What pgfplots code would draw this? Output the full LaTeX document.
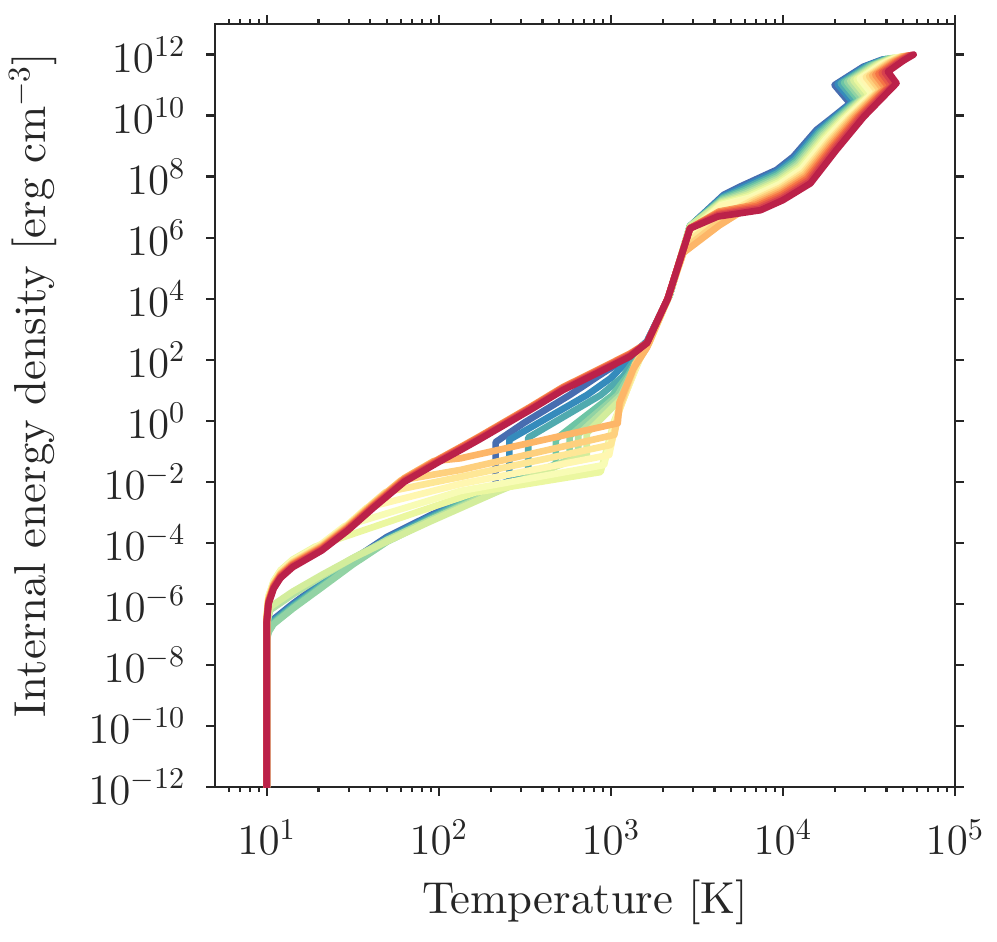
\RequirePackage{fix-cm}
\documentclass[border=0pt]{standalone}
\usepackage{fontspec}
\newfontfamily\labfont{lmroman10-regular.otf}
\usepackage{pgfplots}
\pgfplotsset{compat=1.18}
\definecolor{axgray}{gray}{0.15}
\definecolor{c0}{RGB}{71,109,176}
\definecolor{c1}{RGB}{53,139,188}
\definecolor{c2}{RGB}{80,170,175}
\definecolor{c3}{RGB}{109,197,165}
\definecolor{c4}{RGB}{146,211,164}
\definecolor{c5}{RGB}{180,225,162}
\definecolor{c6}{RGB}{211,237,156}
\definecolor{c7}{RGB}{235,247,160}
\definecolor{c8}{RGB}{248,252,181}
\definecolor{c9}{RGB}{255,247,177}
\definecolor{c10}{RGB}{254,231,150}
\definecolor{c11}{RGB}{254,208,126}
\definecolor{c12}{RGB}{253,182,104}
\definecolor{c13}{RGB}{250,150,86}
\definecolor{c14}{RGB}{245,116,70}
\definecolor{c15}{RGB}{231,89,72}
\definecolor{c16}{RGB}{215,64,78}
\definecolor{c17}{RGB}{187,33,73}
\begin{document}
\begin{tikzpicture}
\begin{axis}[
  scale only axis, width=266.4pt, height=274.68pt,
  xmode=log, ymode=log,
  xmin=5, xmax=1e5, ymin=1e-12, ymax=1e13,
  xtick={10,100,1000,10000,100000},
  minor xtick={6,7,8,9,20,30,40,50,60,70,80,90,200,300,400,500,600,700,800,900,2000,3000,4000,5000,6000,7000,8000,9000,20000,30000,40000,50000,60000,70000,80000,90000},
  ytick={1e-12,1e-10,1e-8,1e-6,1e-4,1e-2,1,1e2,1e4,1e6,1e8,1e10,1e12},
  yminorticks=false,
  tick align=outside, tick pos=both,
  xticklabel pos=lower, yticklabel pos=left,
  major tick length=3.2pt, minor tick length=1.8pt,
  axis line style={axgray, line width=0.8pt},
  every tick/.append style={axgray, line width=0.8pt},
  tick label style={font=\fontsize{15.5}{18}\selectfont, text=axgray, inner sep=0pt},
  xticklabel style={anchor=base, yshift=-21.2pt},
  yticklabel style={anchor=east, xshift=-7.2pt},
  xlabel={Temperature [K]},
  ylabel={Internal energy density [erg cm$^{-3}$]},
  every axis x label/.style={at={(axis description cs:0.5,0)}, anchor=base, yshift=-45.7pt, font=\labfont\fontsize{16.1}{19}\selectfont, text=axgray},
  every axis y label/.style={at={(axis description cs:0,0.5)}, xshift=-65.5pt, yshift=7.4pt, rotate=90, anchor=center, font=\labfont\fontsize{16.1}{19}\selectfont, text=axgray},
  every axis plot/.append style={line width=2.4pt, line cap=round, line join=round},
]
% ---- lower group (blue -> green): lower branch, jump, then upper fan
\addplot[c0] coordinates {(10,1e-12) (10,1e-7) (10.28,1.778e-7) (10.96,3.162e-7) (14.13,1e-6) (20.89,5.012e-6) (31.62,2.818e-5) (50.12,1.585e-4) (89.13,7.943e-4) (133.7,2.344e-3) (213.8,7.943e-3) (213.8,0.1995) (316.2,0.8913) (575.4,6.918) (891.3,35.48) (1288,131.8) (1622,398.1) (2188,1.259e4) (2884,2.399e6) (4519,2.512e7) (5623,4.677e7) (9183,1.660e8) (1.148e4,4.467e8) (1.567e4,3.388e9) (1.862e4,7.244e9) (2.455e4,2.512e10) (1.995e4,1.0e11) (2.931e4,3.981e11) (3.802e4,6.918e11)};
\addplot[c1] coordinates {(10,1e-12) (10,9.12e-8) (10.28,1.622e-7) (10.96,2.884e-7) (14.13,9.12e-7) (20.89,4.571e-6) (31.62,2.570e-5) (50.12,1.445e-4) (89.13,7.244e-4) (133.7,2.138e-3) (213.8,7.244e-3) (257.0,1.072e-2) (257.0,0.2399) (724.4,6.918) (1000,25.12) (1349,141.3) (1622,398.1) (2188,1.259e4) (2884,2.399e6) (4498,2.280e7) (5714,4.217e7) (9226,1.452e8) (1.164e4,3.972e8) (1.592e4,3.097e9) (1.914e4,7.345e9) (2.547e4,2.748e10) (2.080e4,1.062e11) (3.027e4,4.093e11) (3.899e4,7.063e11)};
\addplot[c2] coordinates {(10,1e-12) (10,8.318e-8) (10.28,1.479e-7) (10.96,2.630e-7) (14.13,8.318e-7) (20.89,4.169e-6) (31.62,2.344e-5) (50.12,1.318e-4) (89.13,6.607e-4) (133.7,1.950e-3) (213.8,6.607e-3) (331.1,1.660e-2) (331.1,0.2818) (871.0,6.918) (1175,28.18) (1413,125.9) (1660,416.9) (2188,1.259e4) (2884,2.399e6) (4477,2.070e7) (5807,3.793e7) (9268,1.271e8) (1.180e4,3.532e8) (1.618e4,2.831e9) (1.968e4,7.447e9) (2.642e4,3.006e10) (2.168e4,1.127e11) (3.119e4,4.207e11) (3.990e4,7.228e11)};
\addplot[c3] coordinates {(10,1e-12) (10,7.586e-8) (10.28,1.349e-7) (10.96,2.399e-7) (14.13,7.586e-7) (20.89,3.802e-6) (31.62,2.138e-5) (50.12,1.202e-4) (89.13,6.026e-4) (133.7,1.778e-3) (213.8,6.026e-3) (331.1,1.514e-2) (478.6,3.802e-2) (478.6,0.2512) (1023,6.918) (1259,31.62) (1445,125.9) (1660,436.5) (2188,1.259e4) (2884,2.399e6) (4457,1.884e7) (5902,3.420e7) (9333,1.109e8) (1.197e4,3.133e8) (1.641e4,2.594e9) (2.018e4,7.551e9) (2.742e4,3.281e10) (2.265e4,1.197e11) (3.221e4,4.315e11) (4.093e4,7.379e11)};
\addplot[c4] coordinates {(10,1e-12) (10,6.918e-8) (10.28,1.230e-7) (10.96,2.188e-7) (14.13,6.918e-7) (20.89,3.467e-6) (31.62,1.950e-5) (50.12,1.096e-4) (89.13,5.495e-4) (133.7,1.622e-3) (213.8,5.495e-3) (331.1,1.380e-2) (478.6,3.467e-2) (575.4,5.309e-2) (575.4,0.3162) (1096,6.918) (1318,39.81) (1479,141.3) (1660,446.7) (2188,1.259e4) (2884,2.399e6) (4436,1.710e7) (5998,3.083e7) (9376,9.705e7) (1.213e4,2.786e8) (1.667e4,2.371e9) (2.075e4,7.656e9) (2.844e4,3.589e10) (2.360e4,1.271e11) (3.327e4,4.436e11) (4.188e4,7.551e11)};
\addplot[c5] coordinates {(10,1e-12) (10,1.995e-7) (10.47,6.310e-7) (14.13,1.995e-6) (20.89,7.943e-6) (31.62,3.162e-5) (50.12,1.259e-4) (89.13,5.623e-4) (133.7,1.514e-3) (213.8,5.012e-3) (331.1,1.413e-2) (478.6,3.548e-2) (645.7,7.079e-2) (645.7,0.3548) (1148,6.918) (1349,44.67) (1514,158.5) (1698,478.6) (2188,1.259e4) (2884,2.399e6) (4416,1.552e7) (6095,2.780e7) (9419,8.492e7) (1.227e4,2.477e8) (1.694e4,2.168e9) (2.133e4,7.745e9) (2.944e4,3.926e10) (2.460e4,1.346e11) (3.436e4,4.560e11) (4.295e4,7.709e11)};
\addplot[c6] coordinates {(10,1e-12) (10,2.512e-7) (10.47,7.943e-7) (14.13,2.512e-6) (20.89,8.913e-6) (31.62,3.162e-5) (50.12,1.122e-4) (89.13,5.012e-4) (133.7,1.380e-3) (213.8,4.467e-3) (331.1,1.259e-2) (478.6,3.162e-2) (724.4,7.943e-2) (724.4,0.3981) (1202,6.918) (1380,50.12) (1514,158.5) (1698,501.2) (2163,1.122e4) (2884,2.399e6) (4395,1.409e7) (6194,2.500e7) (9462,7.430e7) (1.245e4,2.203e8) (1.722e4,1.982e9) (2.193e4,7.852e9) (3.055e4,4.295e10) (2.564e4,1.429e11) (3.540e4,4.688e11) (4.406e4,7.870e11)};
% ---- drop group (pale yellow -> orange)
\addplot[c7] coordinates {(10,1e-12) (10,4.467e-7) (10.23,1.778e-6) (10.96,5.623e-6) (12.02,1.259e-5) (14.13,2.818e-5) (19.05,7.413e-5) (162.2,4.467e-3) (871.0,2.089e-2) (1047,1.0) (1479,112.2) (1679,398.1) (2163,1.122e4) (2818,1.585e6) (4375,1.282e7) (6295,2.254e7) (9506,6.486e7) (1.262e4,1.959e8) (1.746e4,1.811e9) (2.249e4,7.962e9) (3.170e4,4.699e10) (2.679e4,1.517e11) (3.656e4,4.808e11) (4.508e4,8.054e11)};
\addplot[c8] coordinates {(10,1e-12) (10,4.218e-7) (10.23,1.679e-6) (10.96,5.309e-6) (12.02,1.189e-5) (14.13,2.661e-5) (20.89,9.441e-5) (28.18,3.467e-4) (133.7,5.012e-3) (912.0,3.548e-2) (1072,1.259) (1445,100) (1679,380.2) (2163,1.122e4) (2786,1.259e6) (4355,1.164e7) (6397,2.032e7) (9550,5.675e7) (1.279e4,1.742e8) (1.774e4,1.656e9) (2.312e4,8.072e9) (3.289e4,5.140e10) (2.793e4,1.611e11) (3.776e4,4.943e11) (4.624e4,8.222e11)};
\addplot[c9] coordinates {(10,1e-12) (10,3.981e-7) (10.23,1.585e-6) (10.96,5.012e-6) (12.02,1.122e-5) (14.13,2.512e-5) (20.89,8.913e-5) (29.51,3.981e-4) (38.02,1.413e-3) (133.7,8.511e-3) (977.2,7.586e-2) (1096,1.778) (1445,89.13) (1660,354.8) (2163,1.122e4) (2754,8.913e5) (4325,1.057e7) (6516,1.828e7) (9616,4.966e7) (1.297e4,1.545e8) (1.803e4,1.517e9) (2.377e4,8.185e9) (3.412e4,5.610e10) (2.911e4,1.710e11) (3.890e4,5.082e11) (4.732e4,8.414e11)};
\addplot[c10] coordinates {(10,1e-12) (10,3.758e-7) (10.23,1.496e-6) (10.96,4.730e-6) (12.02,1.059e-5) (14.13,2.371e-5) (20.89,8.412e-5) (29.51,3.758e-4) (41.69,2.113e-3) (48.98,4.571e-3) (133.7,1.445e-2) (1000,0.1622) (1122,2.239) (1413,79.43) (1660,331.1) (2163,1.122e4) (2723,6.310e5) (4365,5.012e6) (6622,1.648e7) (9661,4.345e7) (1.315e4,1.374e8) (1.832e4,1.387e9) (2.443e4,8.299e9) (3.540e4,6.138e10) (3.034e4,1.816e11) (4.018e4,5.224e11) (4.853e4,8.590e11)};
\addplot[c11] coordinates {(10,1e-12) (10,3.549e-7) (10.23,1.413e-6) (10.96,4.468e-6) (12.02,1.0e-5) (14.13,2.240e-5) (20.89,7.945e-5) (29.51,3.549e-4) (41.69,1.997e-3) (60.26,1.122e-2) (133.7,2.455e-2) (1047,0.3467) (1122,2.818) (1380,70.79) (1641,316.2) (2163,1.122e4) (2692,4.467e5) (4315,3.548e6) (6730,1.486e7) (9705,3.793e7) (1.334e4,1.222e8) (1.858e4,1.268e9) (2.506e4,8.414e9) (3.673e4,6.714e10) (3.170e4,1.928e11) (4.150e4,5.358e11) (4.966e4,8.790e11)};
\addplot[c12] coordinates {(10,1e-12) (10,3.351e-7) (10.23,1.334e-6) (10.96,4.218e-6) (12.02,9.443e-6) (14.13,2.114e-5) (20.89,7.501e-5) (29.51,3.351e-4) (41.69,1.885e-3) (63.10,1.334e-2) (93.33,4.786e-2) (133.7,5.888e-2) (323.6,0.1778) (1096,0.8318) (1122,3.981) (1349,50.12) (1622,251.2) (2138,1e4) (2630,3.162e5) (4266,2.512e6) (6839,1.337e7) (9750,3.319e7) (1.352e4,1.086e8) (1.888e4,1.159e9) (2.576e4,8.531e9) (3.811e4,7.345e10) (3.304e4,2.046e11) (4.276e4,5.508e11) (5.093e4,8.974e11)};
% ---- upper group (orange -> crimson)
\addplot[c13] coordinates {(10,1e-12) (10,3.162e-7) (10.23,1.259e-6) (10.96,3.981e-6) (12.02,8.913e-6) (14.13,1.995e-5) (20.89,7.079e-5) (29.51,3.162e-4) (41.69,1.778e-3) (63.10,1.259e-2) (100,5.623e-2) (133.7,0.1380) (173.8,0.3162) (338.8,2.818) (524.8,12.59) (831.8,45.71) (1288,158.5) (1622,354.8) (2138,1e4) (2884,2.042e6) (4246,7.194e6) (6950,1.205e7) (9795,2.904e7) (1.368e4,9.661e7) (1.919e4,1.059e9) (2.649e4,8.630e9) (3.945e4,8.035e10) (3.443e4,2.168e11) (4.416e4,5.662e11) (5.224e4,9.162e11)};
\addplot[c14] coordinates {(10,1e-12) (10,2.985e-7) (10.23,1.189e-6) (10.96,3.758e-6) (12.02,8.414e-6) (14.13,1.884e-5) (20.89,6.683e-5) (29.51,2.985e-4) (41.69,1.679e-3) (63.10,1.189e-2) (100,5.309e-2) (133.7,0.1303) (173.8,0.2985) (338.8,2.661) (524.8,11.89) (831.8,43.17) (1288,149.7) (1622,354.8) (2138,1e4) (2884,2.042e6) (4227,6.531e6) (7063,1.086e7) (9840,2.541e7) (1.387e4,8.590e7) (1.950e4,9.683e8) (2.723e4,8.750e9) (4.093e4,8.790e10) (3.589e4,2.301e11) (4.560e4,5.821e11) (5.346e4,9.376e11)};
\addplot[c15] coordinates {(10,1e-12) (10,2.818e-7) (10.23,1.122e-6) (10.96,3.548e-6) (12.02,7.943e-6) (14.13,1.778e-5) (20.89,6.310e-5) (29.51,2.818e-4) (41.69,1.585e-3) (63.10,1.122e-2) (100,5.012e-2) (133.7,0.1230) (173.8,0.2818) (338.8,2.512) (524.8,11.22) (831.8,40.74) (1288,141.3) (1622,354.8) (2138,1e4) (2884,2.042e6) (4207,5.929e6) (7177,9.795e6) (9908,2.218e7) (1.406e4,7.621e7) (1.977e4,8.872e8) (2.793e4,8.872e9) (4.246e4,9.594e10) (3.750e4,2.443e11) (4.710e4,5.970e11) (5.483e4,9.572e11)};
\addplot[c16] coordinates {(10,1e-12) (10,2.660e-7) (10.23,1.059e-6) (10.96,3.349e-6) (12.02,7.497e-6) (14.13,1.679e-5) (20.89,5.955e-5) (29.51,2.660e-4) (41.69,1.496e-3) (63.10,1.059e-2) (100,4.730e-2) (133.7,0.1161) (173.8,0.2660) (338.8,2.371) (524.8,10.59) (831.8,38.45) (1288,133.3) (1622,354.8) (2138,1e4) (2884,2.042e6) (4188,5.395e6) (7294,8.810e6) (9954,1.941e7) (1.426e4,6.776e7) (2.009e4,8.110e8) (2.871e4,8.995e9) (4.406e4,1.050e11) (3.908e4,2.594e11) (4.853e4,6.138e11) (5.610e4,9.795e11)};
\addplot[c17] coordinates {(10,1e-12) (10,2.512e-7) (10.23,1e-6) (10.96,3.162e-6) (12.02,7.079e-6) (14.13,1.585e-5) (20.89,5.623e-5) (29.51,2.512e-4) (41.69,1.413e-3) (63.10,1e-2) (100,4.467e-2) (133.7,0.1096) (173.8,0.2512) (338.8,2.239) (524.8,10) (831.8,36.31) (1288,125.9) (1622,354.8) (2138,1e4) (2884,1.995e6) (4169,4.898e6) (7413,7.943e6) (1.0e4,1.698e7) (1.445e4,6.026e7) (2.042e4,7.413e8) (2.951e4,9.120e9) (4.571e4,1.148e11) (4.074e4,2.754e11) (5.012e4,6.310e11) (5.754e4,1.0e12)};
\end{axis}
\pgfresetboundingbox
\path ([shift={(-77.4pt,-55.44pt)}]current axis.south west) rectangle ([shift={(15.12pt,8.64pt)}]current axis.north east);
\end{tikzpicture}
\end{document}
